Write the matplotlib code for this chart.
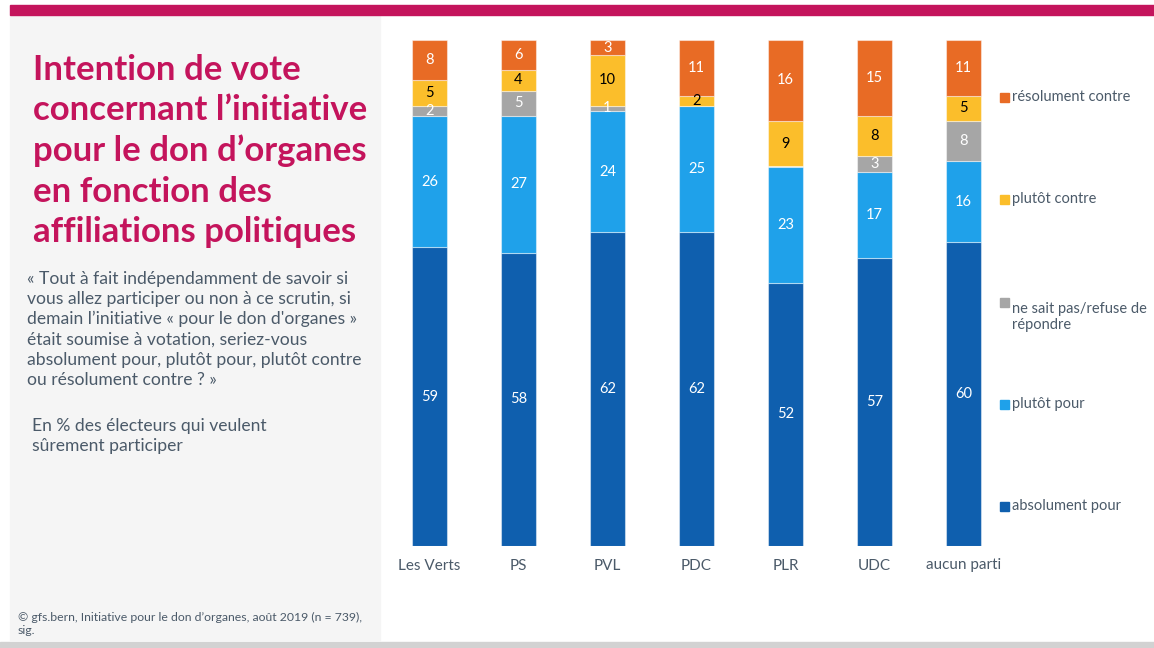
import matplotlib.pyplot as plt
from matplotlib.patches import Rectangle
import numpy as np

# vote intention by party, in %
parties = ['Les Verts', 'PS', 'PVL', 'PDC', 'PLR', 'UDC', 'aucun parti']
absolument_pour = [59, 58, 62, 62, 52, 57, 60]
plutot_pour = [26, 27, 24, 25, 23, 17, 16]
ne_sait_pas = [2, 5, 1, 0, 0, 3, 8]
plutot_contre = [5, 4, 10, 2, 9, 8, 5]
resolument_contre = [8, 6, 3, 11, 16, 15, 11]

series = [absolument_pour, plutot_pour, ne_sait_pas, plutot_contre, resolument_contre]
labels = ['absolument pour', 'plutôt pour', 'ne sait pas/refuse de\nrépondre',
          'plutôt contre', 'résolument contre']
colors = ['#0F5FAE', '#1FA1EA', '#A6A6A6', '#FBBE2B', '#E86B25']
txtcolors = ['white', 'white', 'white', 'black', 'white']

W, H = 1154, 648
FONT = 'Lato'
GREY = '#4B5A69'
MAGENTA = '#C4145C'

fig = plt.figure(figsize=(W / 100, H / 100), dpi=100)

def fx(px):
    return px / W

def fy(py):
    return 1 - py / H

# background pieces
fig.patches.append(Rectangle((fx(10), fy(640)), fx(370), 625 / H,
                             transform=fig.transFigure, color='#F5F5F5', zorder=0))
fig.patches.append(Rectangle((fx(10), fy(15)), fx(1144), 10 / H,
                             transform=fig.transFigure, color=MAGENTA, zorder=0))
fig.patches.append(Rectangle((0, 0), 1, 6 / H,
                             transform=fig.transFigure, color='#D2D2D2', zorder=0))

# title
title_lines = ['Intention de vote', 'concernant l\u2019initiative',
               'pour le don d\u2019organes', 'en fonction des',
               'affiliations politiques']
for i, line in enumerate(title_lines):
    fig.text(fx(33), fy(80 + i * 40.5), line, color=MAGENTA, fontsize=25,
             fontweight='bold', family=FONT, va='baseline', ha='left')

question = ['« Tout à fait indépendamment de savoir si',
            'vous allez participer ou non à ce scrutin, si',
            'demain l\u2019initiative « pour le don d\'organes »',
            'était soumise à votation, seriez-vous',
            'absolument pour, plutôt pour, plutôt contre',
            'ou résolument contre ? »']
for i, line in enumerate(question):
    fig.text(fx(27), fy(284 + i * 20.2), line, color=GREY, fontsize=12.6,
             family=FONT, va='baseline', ha='left')

for i, line in enumerate(['En % des électeurs qui veulent', 'sûrement participer']):
    fig.text(fx(32), fy(431 + i * 20.5), line, color=GREY, fontsize=12.6,
             family=FONT, va='baseline', ha='left')

fig.text(fx(18), fy(621), '© gfs.bern, Initiative pour le don d\u2019organes, août 2019 (n = 739),',
         color=GREY, fontsize=8.8, family=FONT, va='baseline')
fig.text(fx(18), fy(634), 'sig.', color=GREY, fontsize=8.8, family=FONT, va='baseline')

# stacked bars
spacing = 89
left_px = 429.5 - spacing / 2
ax = fig.add_axes([fx(left_px), fy(546), fx(7 * spacing), 506 / H])
x = np.arange(len(parties))
bottom = np.zeros(len(parties))
for vals, col, tc in zip(series, colors, txtcolors):
    vals = np.array(vals)
    ax.bar(x, vals, width=0.395, bottom=bottom, color=col,
           edgecolor=(1, 1, 1, 0.45), linewidth=0.8)
    for xi, v, b in zip(x, vals, bottom):
        if v > 0:
            ax.text(xi, b + v / 2, str(v), ha='center', va='center',
                    color=tc, fontsize=10.5, family=FONT)
    bottom += vals

ax.set_xlim(-0.5, len(parties) - 0.5)
ax.set_ylim(0, 100)
ax.set_xticks(x)
ax.set_xticklabels(parties, family=FONT, fontsize=11, color=GREY)
ax.tick_params(axis='x', length=0, pad=9)
ax.set_yticks([])
for s in ax.spines.values():
    s.set_visible(False)
ax.patch.set_alpha(0)

# legend
leg_y = [506, 404, 302, 199, 97]
for yy, lab, col in zip(leg_y, labels, colors):
    fig.patches.append(Rectangle((fx(1000), fy(yy + 5)), fx(9), 9 / H,
                                 transform=fig.transFigure, color=col))
    fig.text(fx(1012), fy(yy), lab, color=GREY, fontsize=10.5, family=FONT,
             va='top' if '\n' in lab else 'center', ha='left',
             linespacing=1.2, transform=fig.transFigure)

fig.savefig('out.png', dpi=100)
